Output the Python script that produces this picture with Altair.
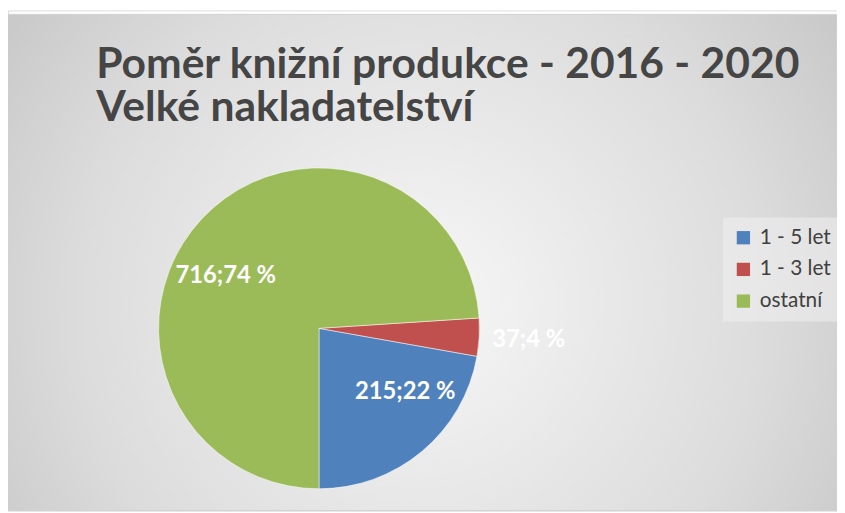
import math
import altair as alt
import pandas as pd

categories = ["\u00a01 - 5 let", "1 - 3 let", "ostatní"]
values = [215, 37, 716]
labels = ["215;22 %", "37;4 %", "716;74 %"]
draw_order = [1, 0, 2]
colors = ["#4f81bd", "#c0504d", "#9bbb59"]

title_lines = ["Poměr knižní produkce - 2016 - 2020", "Velké nakladatelství"]

df = pd.DataFrame({"cat": categories, "value": values, "label": labels, "ord": draw_order})

W, H = 837, 505
CX, CY, R = 314, 321, 161
start = math.radians(180 - 360 * (values[0] + values[1]) / sum(values))
theta_scale = alt.Scale(range=[start, start + 2 * math.pi])

bg = alt.Chart(pd.DataFrame({"a": [0]})).mark_rect(
    fill=alt.Gradient(
        gradient="radial",
        x1=0.5, y1=0.55, r1=0.0,
        x2=0.5, y2=0.55, r2=0.75,
        stops=[alt.GradientStop(offset=0, color="#f7f7f7"),
               alt.GradientStop(offset=0.55, color="#dcdcdc"),
               alt.GradientStop(offset=1, color="#bababa")],
    ),
    stroke="#d0d0d0", strokeWidth=1,
).encode(x=alt.value(-3), x2=alt.value(W), y=alt.value(4), y2=alt.value(H))

base = alt.Chart(df).encode(
    theta=alt.Theta("value:Q", stack=True, scale=theta_scale),
    order=alt.Order("ord:Q"),
    x=alt.value(CX), y=alt.value(CY),
)

pie = base.mark_arc(outerRadius=R + 1, stroke="white", strokeWidth=0.5).encode(
    color=alt.Color(
        "cat:N",
        scale=alt.Scale(domain=categories, range=colors),
        sort=categories,
        legend=alt.Legend(
            title=None, orient="none", legendX=722, legendY=209,
            symbolType="square", symbolSize=180, symbolStrokeWidth=0,
            labelFont="Lato", labelFontSize=21, labelColor="#404040",
            rowPadding=10, padding=10, fillColor="rgba(240,240,240,0.55)",
            labelOffset=6,
        ),
    )
)

text = base.transform_calculate(
    lr="datum.value < 50 ? 212 : 108"
).mark_text(
    font="Lato", fontSize=24, fontWeight="bold", color="white",
    align="center", baseline="middle",
).encode(
    text="label:N",
    radius=alt.Radius("lr:Q", scale=None),
)

chart = alt.layer(bg, pie, text).properties(
    width=W, height=H,
    autosize=alt.AutoSizeParams(type="none"),
    padding=0,
    title=alt.Title(
        text=title_lines, anchor="start", frame="group", orient="top",
        baseline="top", offset=0, dx=89, dy=121,
        font="Lato", fontSize=43, fontWeight="bold", color="#454545",
        lineHeight=44,
    ),
).configure_view(stroke=None).configure(background="white")

chart.save("out.html", embed_options={"renderer": "svg", "actions": False})
